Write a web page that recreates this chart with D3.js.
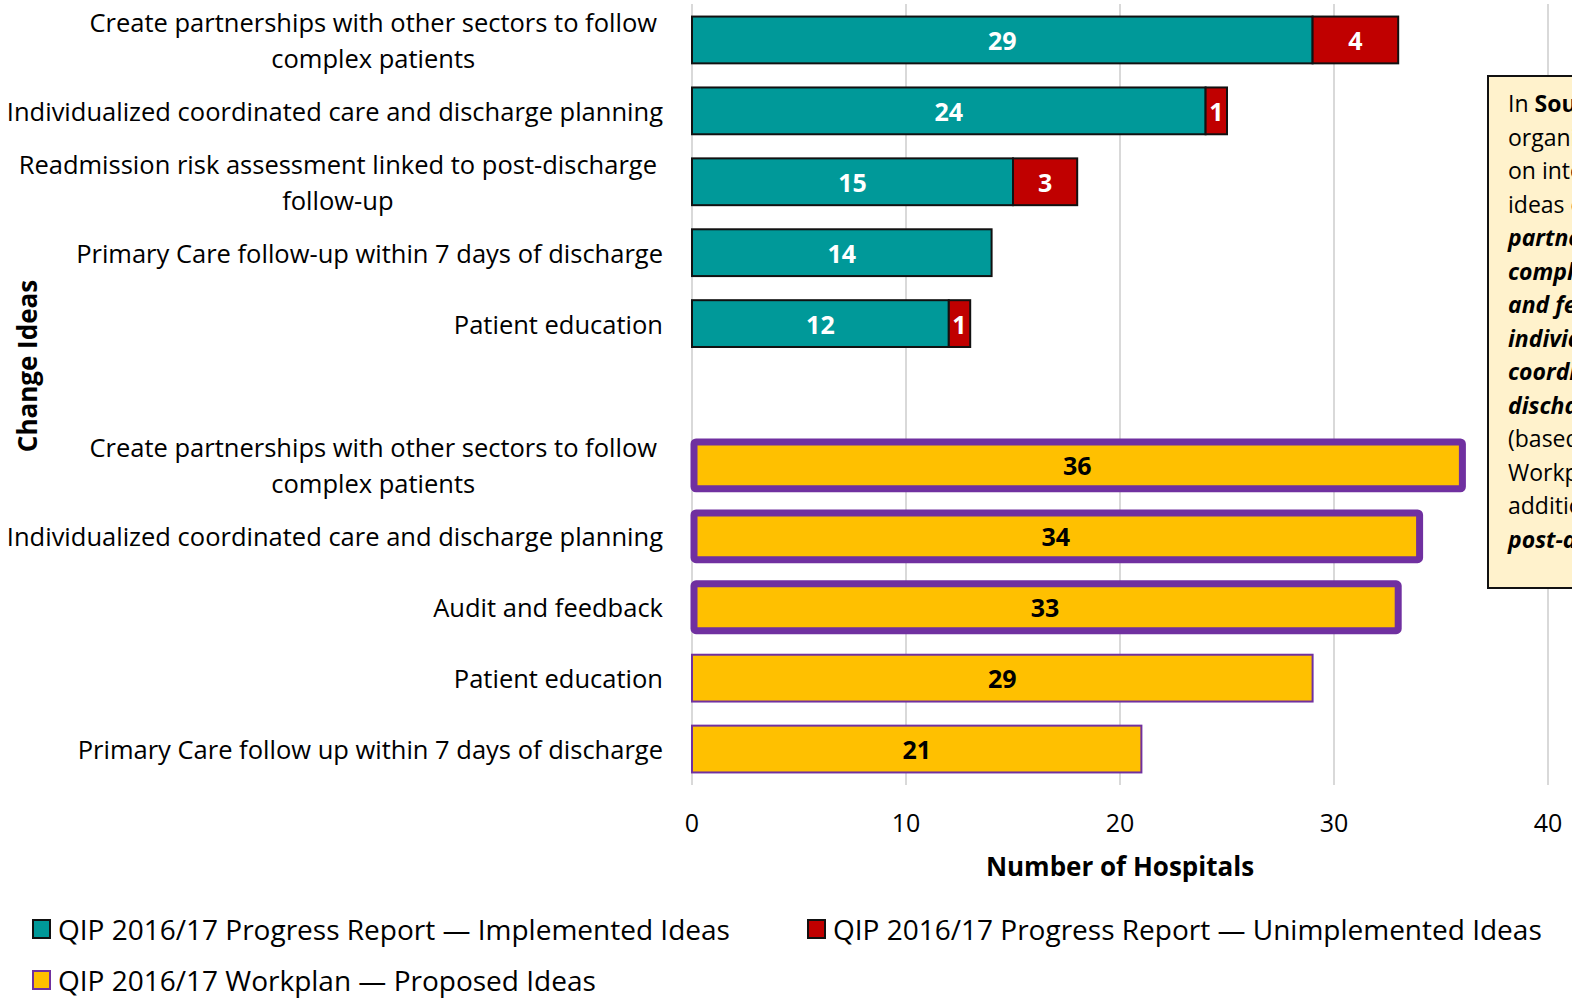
<!DOCTYPE html>
<html>
<head>
<meta charset="utf-8">
<script src="https://cdn.jsdelivr.net/npm/d3@7"></script>
<style>
  body { margin: 0; background: #fff; overflow: hidden; }
  svg { display: block; font-family: "Open Sans", Lato, sans-serif; }
</style>
</head>
<body>
<div id="chart"></div>
<script>
// progress report ideas (teal + red stacked)
const progressIdeas = [
  "Create partnerships with other sectors to follow\ncomplex patients",
  "Individualized coordinated care and discharge planning",
  "Readmission risk assessment linked to post-discharge\nfollow-up",
  "Primary Care follow-up within 7 days of discharge",
  "Patient education"
];
const implemented = [29, 24, 15, 14, 12];
const unimplemented = [4, 1, 3, 0, 1];

// workplan ideas (yellow)
const workplanIdeas = [
  "Create partnerships with other sectors to follow\ncomplex patients",
  "Individualized coordinated care and discharge planning",
  "Audit and feedback",
  "Patient education",
  "Primary Care follow up within 7 days of discharge"
];
const proposed = [36, 34, 33, 29, 21];
const topThree = [true, true, true, false, false];

const xTicks = [0, 10, 20, 30, 40];
const legendItems = [
  "QIP 2016/17 Progress Report \u2014 Implemented Ideas",
  "QIP 2016/17 Progress Report \u2014 Unimplemented Ideas",
  "QIP 2016/17 Workplan \u2014 Proposed Ideas"
];

const W = 1572, H = 999;
const teal = "#009999", red = "#c00000", yellow = "#ffc000", purple = "#7030a0";

const svg = d3.select("#chart").append("svg")
  .attr("width", W)
  .attr("height", H);

// row keys: 5 progress rows, a blank gap, 5 workplan rows
const rows = progressIdeas.map((d, i) => "p" + i)
  .concat(["gap"])
  .concat(workplanIdeas.map((d, i) => "w" + i));

const x = d3.scaleLinear().domain([0, 40]).range([692, 1548]);
const y = d3.scaleBand().domain(rows).range([4.5, 784.5])
  .paddingInner(0.34).paddingOuter(0.17);

// gridlines
svg.append("g").selectAll("line")
  .data(xTicks)
  .enter().append("line")
  .attr("x1", d => x(d)).attr("x2", d => x(d))
  .attr("y1", 4).attr("y2", 785)
  .attr("stroke", "#d9d9d9")
  .attr("stroke-width", 2);

// tick labels
svg.append("g").selectAll("text")
  .data(xTicks)
  .enter().append("text")
  .attr("x", d => x(d))
  .attr("y", 832)
  .attr("text-anchor", "middle")
  .style("font-size", "25px")
  .text(d => d);

svg.append("text")
  .attr("x", x(20))
  .attr("y", 876)
  .attr("text-anchor", "middle")
  .style("font-size", "26px")
  .style("font-weight", "bold")
  .text("Number of Hospitals");

svg.append("text")
  .attr("transform", "translate(37,366) rotate(-90)")
  .attr("text-anchor", "middle")
  .style("font-size", "26px")
  .style("font-weight", "bold")
  .text("Change Ideas");

// category labels
const labelData = progressIdeas.map((t, i) => ({ key: "p" + i, text: t }))
  .concat(workplanIdeas.map((t, i) => ({ key: "w" + i, text: t })));

const labelRight = 663;
labelData.forEach(d => {
  const lines = d.text.split("\n");
  const cy = y(d.key) + y.bandwidth() / 2;
  const g = svg.append("text")
    .style("font-size", "25.5px")
    .attr("dominant-baseline", "central");
  lines.forEach((ln, j) => {
    g.append("tspan")
      .attr("y", cy + (j - (lines.length - 1) / 2) * 36)
      .text(ln);
  });
  if (lines.length === 1) {
    g.attr("text-anchor", "end").selectAll("tspan").attr("x", labelRight);
  } else {
    let maxW = 0;
    g.selectAll("tspan").each(function () {
      maxW = Math.max(maxW, this.getComputedTextLength());
    });
    g.attr("text-anchor", "middle").selectAll("tspan").attr("x", labelRight - 6 - maxW / 2);
  }
});

// progress bars
const prog = progressIdeas.map((t, i) => ({ key: "p" + i, imp: implemented[i], unimp: unimplemented[i] }));

const pg = svg.append("g");
pg.selectAll("rect.imp")
  .data(prog)
  .enter().append("rect")
  .attr("class", "imp")
  .attr("x", x(0))
  .attr("y", d => y(d.key))
  .attr("width", d => x(d.imp) - x(0))
  .attr("height", y.bandwidth())
  .attr("fill", teal)
  .attr("stroke", "#111")
  .attr("stroke-width", 2);

pg.selectAll("rect.unimp")
  .data(prog.filter(d => d.unimp > 0))
  .enter().append("rect")
  .attr("class", "unimp")
  .attr("x", d => x(d.imp))
  .attr("y", d => y(d.key))
  .attr("width", d => x(d.imp + d.unimp) - x(d.imp))
  .attr("height", y.bandwidth())
  .attr("fill", red)
  .attr("stroke", "#111")
  .attr("stroke-width", 2);

pg.selectAll("text.imp")
  .data(prog)
  .enter().append("text")
  .attr("x", d => (x(0) + x(d.imp)) / 2)
  .attr("y", d => y(d.key) + y.bandwidth() / 2)
  .attr("dominant-baseline", "central")
  .attr("text-anchor", "middle")
  .attr("fill", "#fff")
  .style("font-size", "25px")
  .style("font-weight", "bold")
  .text(d => d.imp);

pg.selectAll("text.unimp")
  .data(prog.filter(d => d.unimp > 0))
  .enter().append("text")
  .attr("x", d => (x(d.imp) + x(d.imp + d.unimp)) / 2)
  .attr("y", d => y(d.key) + y.bandwidth() / 2)
  .attr("dominant-baseline", "central")
  .attr("text-anchor", "middle")
  .attr("fill", "#fff")
  .style("font-size", "25px")
  .style("font-weight", "bold")
  .text(d => d.unimp);

// workplan bars
const work = workplanIdeas.map((t, i) => ({ key: "w" + i, val: proposed[i], top: topThree[i] }));
const wg = svg.append("g");
wg.selectAll("rect")
  .data(work)
  .enter().append("rect")
  .attr("x", d => x(0) + (d.top ? 2 : 0))
  .attr("y", d => y(d.key))
  .attr("width", d => x(d.val) - x(0) - (d.top ? 2 : 0))
  .attr("height", y.bandwidth())
  .attr("rx", d => d.top ? 2 : 0)
  .attr("fill", yellow)
  .attr("stroke", purple)
  .attr("stroke-width", d => d.top ? 7 : 2);

wg.selectAll("text")
  .data(work)
  .enter().append("text")
  .attr("x", d => (x(0) + x(d.val)) / 2)
  .attr("y", d => y(d.key) + y.bandwidth() / 2)
  .attr("dominant-baseline", "central")
  .attr("text-anchor", "middle")
  .attr("fill", "#000")
  .style("font-size", "25px")
  .style("font-weight", "bold")
  .text(d => d.val);

// side note box (cut off at the page edge, as in the original)
const note = svg.append("g");
note.append("rect")
  .attr("x", 1488).attr("y", 76)
  .attr("width", 120).attr("height", 512)
  .attr("fill", "#fff2cc")
  .attr("stroke", "#111")
  .attr("stroke-width", 2);

const noteLines = [
  [["In ", "normal", "normal"], ["South West", "bold", "normal"]],
  [["organizations focused", "normal", "normal"]],
  [["on integrating change", "normal", "normal"]],
  [["ideas on creating", "normal", "normal"]],
  [["partnerships to follow", "bold", "italic"]],
  [["complex patients, audit", "bold", "italic"]],
  [["and feedback and", "bold", "italic"]],
  [["individualized", "bold", "italic"]],
  [["coordinated care and", "bold", "italic"]],
  [["discharge planning", "bold", "italic"]],
  [["(based on the", "normal", "normal"]],
  [["Workplan), with", "normal", "normal"]],
  [["additional focus on", "normal", "normal"]],
  [["post-discharge", "bold", "italic"]]
];
noteLines.forEach((parts, i) => {
  const t = note.append("text")
    .attr("x", 1508)
    .attr("y", 103 + i * 33.5)
    .attr("dominant-baseline", "central")
    .style("font-size", "23px");
  parts.forEach(p => {
    t.append("tspan")
      .style("font-weight", p[1])
      .style("font-style", p[2])
      .text(p[0]);
  });
});

// legend
const legendPos = [[33, 929], [808, 929], [33, 980]];
const legendFill = [teal, red, yellow];
const legendStroke = ["#111", "#111", purple];
const lg = svg.append("g");
legendItems.forEach((t, i) => {
  lg.append("rect")
    .attr("x", legendPos[i][0]).attr("y", legendPos[i][1] - 9)
    .attr("width", 17).attr("height", 18)
    .attr("fill", legendFill[i])
    .attr("stroke", legendStroke[i])
    .attr("stroke-width", 2);
  lg.append("text")
    .attr("x", legendPos[i][0] + 25)
    .attr("y", legendPos[i][1])
    .attr("dominant-baseline", "central")
    .style("font-size", "28px")
    .text(t);
});
</script>
</body>
</html>
